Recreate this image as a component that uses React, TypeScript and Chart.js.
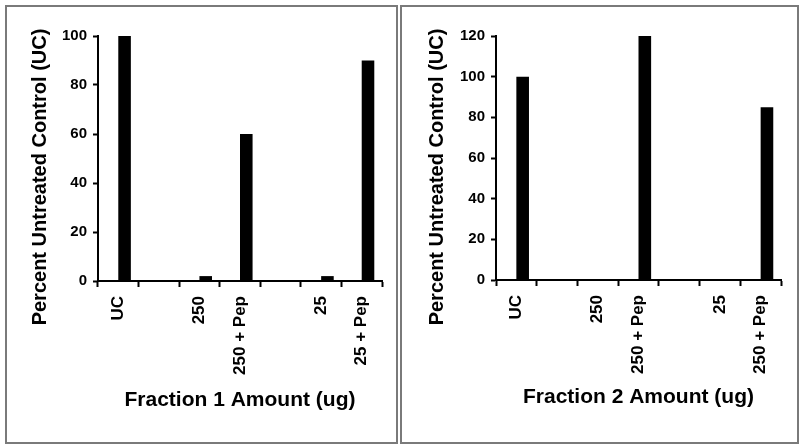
import { useEffect, useRef } from "react";
import { Chart, registerables } from "chart.js";

Chart.register(...registerables);

// ---- Data ----
const labels1 = ["UC", "", "250", "250 + Pep", "", "25", "25 + Pep"];
const values1: (number | null)[] = [100, null, 2, 60, null, 2, 90];
const labels2 = ["UC", "", "250", "250 + Pep", "", "25", "250 + Pep"];
const values2: (number | null)[] = [100, null, 0, 120, null, 0, 85];
const yMax1 = 100;
const yMax2 = 120;
const yStep = 20;
const yTitleText = "Percent Untreated Control (UC)";
const xTitle1 = "Fraction 1 Amount (ug)";
const xTitle2 = "Fraction 2 Amount (ug)";

const FONT = '"Liberation Sans", Arial, Helvetica, sans-serif';

const yTitlePlugin = {
  id: "yTitleDraw",
  afterDraw(chart: any, _args: any, opts: any) {
    const ctx = chart.ctx;
    ctx.save();
    ctx.translate(opts.x, opts.y);
    ctx.rotate(-Math.PI / 2);
    ctx.font = `bold ${opts.size}px ${FONT}`;
    ctx.fillStyle = "#000";
    ctx.textAlign = "center";
    ctx.textBaseline = "middle";
    ctx.fillText(opts.text, 0, 0);
    ctx.restore();
  },
};

type PanelProps = {
  left: number;
  labels: string[];
  values: (number | null)[];
  yMax: number;
  xTitle: string;
  padTop: number;
  padRight: number;
  yAxisWidth: number;
  xAxisHeight: number;
  yTitleX: number;
  yTitleY: number;
  xTitlePad: number;
};

function Panel(p: PanelProps) {
  const ref = useRef<HTMLCanvasElement | null>(null);
  useEffect(() => {
    if (!ref.current) return;
    const chart = new Chart(ref.current, {
      type: "bar",
      data: {
        labels: p.labels,
        datasets: [
          {
            data: p.labels.map(() => null),
            backgroundColor: "rgba(0,0,0,0)",
          },
          {
            data: p.values,
            backgroundColor: "#000",
            borderWidth: 0,
          },
        ],
      },
      options: {
        animation: false,
        responsive: false,
        devicePixelRatio: 1,
        layout: { padding: { top: p.padTop, right: p.padRight, left: 0, bottom: 0 } },
        datasets: { bar: { categoryPercentage: 0.62, barPercentage: 1 } },
        plugins: {
          legend: { display: false },
          tooltip: { enabled: false },
          yTitleDraw: { x: p.yTitleX, y: p.yTitleY, text: yTitleText, size: 20 },
        } as any,
        scales: {
          x: {
            offset: true,
            grid: {
              display: true,
              drawOnChartArea: false,
              drawTicks: true,
              tickLength: 6,
              tickColor: "#000",
              tickWidth: 2,
              offset: true,
            },
            border: { display: true, color: "#000", width: 2 },
            ticks: {
              autoSkip: false,
              maxRotation: 90,
              minRotation: 90,
              padding: 9,
              color: "#000",
              font: { family: FONT, size: 17, weight: "bold" },
            },
            title: {
              display: true,
              text: p.xTitle,
              color: "#000",
              font: { family: FONT, size: 21, weight: "bold" },
              padding: { top: 0, bottom: p.xTitlePad },
            },
            afterFit: (scale: any) => {
              scale.height = p.xAxisHeight;
            },
          },
          y: {
            min: 0,
            max: p.yMax,
            grid: {
              display: true,
              drawOnChartArea: false,
              drawTicks: true,
              tickLength: 5,
              tickColor: "#000",
              tickWidth: 2,
            },
            border: { display: true, color: "#000", width: 2 },
            ticks: {
              stepSize: yStep,
              padding: 6,
              color: "#000",
              font: { family: FONT, size: 15, weight: "bold" },
            },
            afterFit: (scale: any) => {
              scale.width = p.yAxisWidth;
            },
          },
        },
      },
      plugins: [yTitlePlugin as any],
    });
    return () => chart.destroy();
  }, []);
  return (
    <canvas
      ref={ref}
      width={400}
      height={447}
      style={{ position: "absolute", left: p.left, top: 0, width: 400, height: 447 }}
    />
  );
}

export default function App() {
  return (
    <div
      style={{
        position: "fixed",
        left: 0,
        top: 0,
        width: 800,
        height: 447,
        background: "#fff",
        overflow: "hidden",
      }}
    >
      <div
        style={{
          position: "absolute",
          left: 5,
          top: 5,
          width: 389,
          height: 435,
          border: "2px solid #7a7a7a",
        }}
      />
      <div
        style={{
          position: "absolute",
          left: 400,
          top: 5,
          width: 395,
          height: 435,
          border: "2px solid #7a7a7a",
        }}
      />
      <Panel
        left={0}
        labels={labels1}
        values={values1}
        yMax={yMax1}
        xTitle={xTitle1}
        padTop={36}
        padRight={18}
        yAxisWidth={98}
        xAxisHeight={166}
        yTitleX={40}
        yTitleY={177}
        xTitlePad={34}
      />
      <Panel
        left={400}
        labels={labels2}
        values={values2}
        yMax={yMax2}
        xTitle={xTitle2}
        padTop={36}
        padRight={19}
        yAxisWidth={96}
        xAxisHeight={167}
        yTitleX={37}
        yTitleY={177}
        xTitlePad={37}
      />
    </div>
  );
}
